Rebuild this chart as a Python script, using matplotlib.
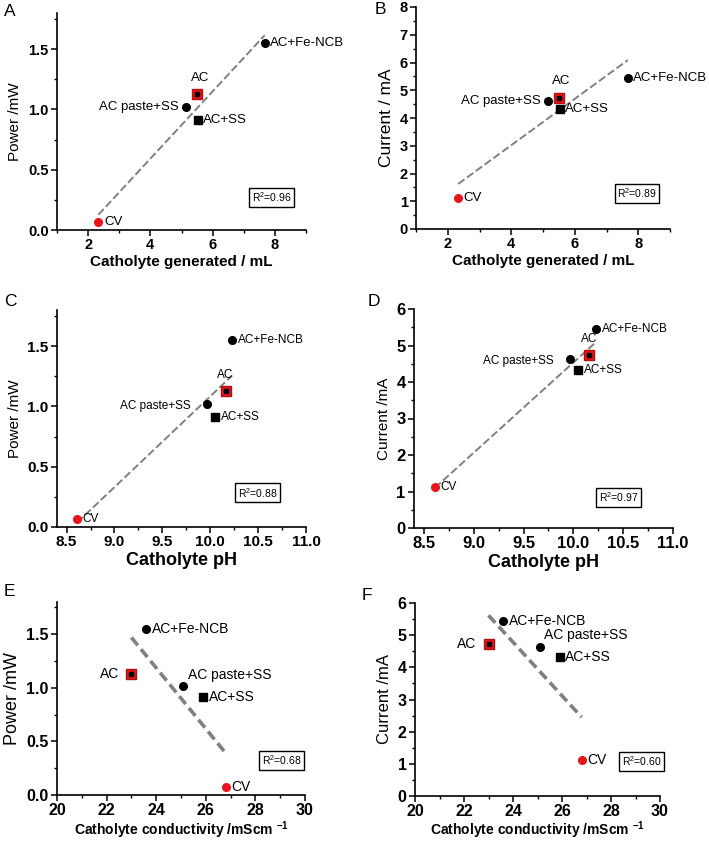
import matplotlib
matplotlib.use('Agg')
import matplotlib.pyplot as plt
import numpy as np
from matplotlib.ticker import AutoMinorLocator

plt.rcParams['font.family'] = ['Liberation Sans', 'DejaVu Sans']
plt.rcParams['mathtext.fontset'] = 'custom'
plt.rcParams['mathtext.rm'] = 'Liberation Sans'
plt.rcParams['mathtext.bf'] = 'Liberation Sans:bold'

# Valeurs (un point par électrode)
samples = ['CV', 'AC', 'AC+SS', 'AC paste+SS', 'AC+Fe-NCB']
catholyte_volume = [2.33, 5.50, 5.52, 5.15, 7.67]
catholyte_ph = [8.61, 10.16, 10.05, 9.97, 10.23]
conductivity = [26.8, 23.0, 25.9, 25.1, 23.6]
power = [0.07, 1.13, 0.91, 1.02, 1.55]
current = [1.12, 4.73, 4.33, 4.62, 5.45]
r2_labels = ['0.96', '0.89', '0.88', '0.97', '0.68', '0.60']


# Style du marqueur de chaque échantillon
def draw_marker(ax, name, x, y):
    if name == 'CV':
        ax.plot(x, y, 'o', color='#e8141b', ms=5.5, zorder=4)
    elif name == 'AC':
        ax.plot(x, y, 's', color='#e8141b', mec='#b01010', ms=7.5, zorder=4)
        ax.plot(x, y, 's', color='black', ms=3.3, zorder=5)
    elif name == 'AC+SS':
        ax.plot(x, y, 's', color='black', ms=5.5, zorder=4)
    else:
        ax.plot(x, y, 'o', color='black', ms=5.5, zorder=4)


def draw_panel(ax, x, y, cfg):
    # Droite de tendance (moindres carrés)
    slope, intercept = np.polyfit(x, y, 1)
    xs = np.array([min(x), max(x)])
    ax.plot(xs, slope * xs + intercept, color='#808080', lw=cfg['lw'],
            linestyle=cfg['ls'], zorder=2)

    for name, xi, yi in zip(samples, x, y):
        draw_marker(ax, name, xi, yi)
        dx, dy, ha = cfg['offsets'].get(name, (4, 0, 'left'))
        ax.annotate(name, (xi, yi), xytext=(dx, dy), textcoords='offset points',
                    ha=ha, va='center', fontsize=cfg['fs_note'], zorder=6)

    ax.set_xlim(cfg['xlim'])
    ax.set_ylim(cfg['ylim'])
    ax.set_xticks(cfg['xticks'])
    ax.set_yticks(cfg['yticks'])
    ax.xaxis.set_minor_locator(AutoMinorLocator(2))
    ax.yaxis.set_minor_locator(AutoMinorLocator(2))
    for s in ['top', 'right']:
        ax.spines[s].set_visible(False)
    for s in ['left', 'bottom']:
        ax.spines[s].set_linewidth(1.2)
    ax.tick_params(which='major', direction='out', length=4, width=1.1, pad=2,
                   labelsize=cfg['fs_tick'])
    ax.tick_params(which='minor', direction='out', length=2.5, width=1)
    for lab in ax.get_xticklabels() + ax.get_yticklabels():
        lab.set_fontweight('bold')

    ax.set_xlabel(cfg['xlabel'], fontsize=cfg['fs_xlabel'], fontweight='bold',
                  labelpad=cfg.get('xpad', 2))
    ax.set_ylabel(cfg['ylabel'], fontsize=cfg['fs_ylabel'], labelpad=4)

    ax.text(cfg['r2pos'][0], cfg['r2pos'][1], 'R$^2$=' + cfg['r2'], transform=ax.transAxes,
            ha='center', va='center', fontsize=7.5,
            bbox=dict(boxstyle='square,pad=0.25', fc='white', ec='black', lw=1))


fig = plt.figure(figsize=(7.09, 8.44), dpi=100)
W, H = 709, 844


def add_axes(left, right, top, bottom):
    return fig.add_axes([left / W, 1 - bottom / H, (right - left) / W, (bottom - top) / H])


solid_fine = (0, (4, 1.6))
thick = (0, (2.8, 1.4))

panels = [
    dict(letter='A', lpos=(4, 4), box=(57, 306, 13, 230), x=catholyte_volume, y=power,
         xlim=(1, 9), ylim=(0, 1.8), xticks=[2, 4, 6, 8], yticks=[0, 0.5, 1.0, 1.5],
         xlabel='Catholyte generated / mL', ylabel='Power /mW',
         fs_tick=10.5, fs_xlabel=11, fs_ylabel=11, fs_note=9.5, lw=1.4, ls=solid_fine,
         r2=r2_labels[0], r2pos=(0.863, 0.152),
         offsets={'AC': (2, 11, 'center'), 'AC paste+SS': (-5, 0, 'right')}),
    dict(letter='B', lpos=(375, 2), box=(416, 670, 7, 229), x=catholyte_volume, y=current,
         xlim=(1, 9), ylim=(0, 8), xticks=[2, 4, 6, 8], yticks=list(range(0, 9)),
         xlabel='Catholyte generated / mL', ylabel='Current / mA',
         fs_tick=10.5, fs_xlabel=11, fs_ylabel=12.5, fs_note=9.5, lw=1.4, ls=solid_fine,
         r2=r2_labels[1], r2pos=(0.87, 0.162),
         offsets={'AC': (2, 12, 'center'), 'AC paste+SS': (-5, 0, 'right')}),
    dict(letter='C', lpos=(4, 294), box=(57, 306, 310, 527), x=catholyte_ph, y=power,
         xlim=(8.4, 11.0), ylim=(0, 1.8), xticks=[8.5, 9.0, 9.5, 10.0, 10.5, 11.0],
         yticks=[0, 0.5, 1.0, 1.5],
         xlabel='Catholyte pH', ylabel='Power /mW',
         fs_tick=11, fs_xlabel=13, fs_ylabel=11, fs_note=8.5, lw=1.4, ls=solid_fine,
         r2=r2_labels[2], r2pos=(0.807, 0.157),
         offsets={'AC': (0, 11, 'center'), 'AC paste+SS': (-12, -1.5, 'right')}),
    dict(letter='D', lpos=(368, 294), box=(414, 673, 309, 528), x=catholyte_ph, y=current,
         xlim=(8.4, 11.0), ylim=(0, 6), xticks=[8.5, 9.0, 9.5, 10.0, 10.5, 11.0],
         yticks=list(range(0, 7)),
         xlabel='Catholyte pH', ylabel='Current /mA',
         fs_tick=12, fs_xlabel=13, fs_ylabel=11, fs_note=8.5, lw=1.4, ls=solid_fine,
         r2=r2_labels[3], r2pos=(0.79, 0.14),
         offsets={'AC': (0, 11.5, 'center'), 'AC paste+SS': (-12, -1, 'right')}),
    dict(letter='E', lpos=(4, 584), box=(57, 305, 602, 795), x=conductivity, y=power,
         xlim=(20, 30), ylim=(0, 1.8), xticks=[20, 22, 24, 26, 28, 30],
         yticks=[0, 0.5, 1.0, 1.5],
         xlabel='Catholyte conductivity /mScm $^{\\mathbf{-1}}$', ylabel='Power /mW',
         fs_tick=11.5, fs_xlabel=10, fs_ylabel=13, fs_note=10, lw=2.6, ls=thick,
         r2=r2_labels[4], r2pos=(0.907, 0.18), xpad=1,
         offsets={'AC': (-9, 0, 'right'), 'AC paste+SS': (3, 8, 'left')}),
    dict(letter='F', lpos=(362, 588), box=(415, 660, 603, 796), x=conductivity, y=current,
         xlim=(20, 30), ylim=(0, 6), xticks=[20, 22, 24, 26, 28, 30],
         yticks=list(range(0, 7)),
         xlabel='Catholyte conductivity /mScm $^{\\mathbf{-1}}$', ylabel='Current /mA',
         fs_tick=11.5, fs_xlabel=10, fs_ylabel=12, fs_note=10, lw=2.6, ls=thick,
         r2=r2_labels[5], r2pos=(0.926, 0.18), xpad=0,
         offsets={'AC': (-9, 0, 'right'), 'AC paste+SS': (3, 9, 'left')}),
]

for cfg in panels:
    ax = add_axes(*cfg['box'])
    draw_panel(ax, cfg['x'], cfg['y'], cfg)
    fig.text(cfg['lpos'][0] / W, 1 - cfg['lpos'][1] / H, cfg['letter'], fontsize=12.5,
             ha='left', va='top')

fig.savefig('out.png', dpi=100)
